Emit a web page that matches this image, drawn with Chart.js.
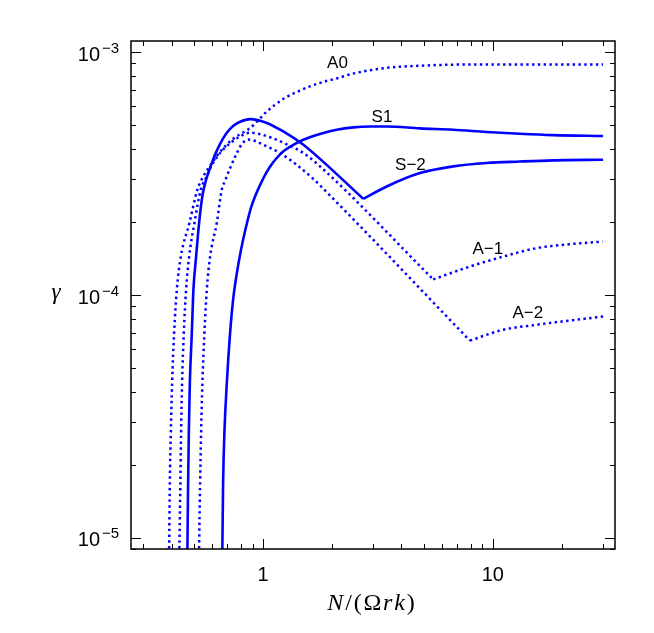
<!DOCTYPE html>
<html>
<head>
<meta charset="utf-8">
<script src="https://cdn.jsdelivr.net/npm/chart.js@4.4.1/dist/chart.umd.min.js"></script>
<style>
html,body{margin:0;padding:0;background:#fff;}
canvas{display:block;}
</style>
</head>
<body>
<canvas id="c" width="654" height="633"></canvas>
<script>
// ---- axis ranges ----
const X_MIN = 0.2663, X_MAX = 34.0;
const Y_MIN = 8.98e-6, Y_MAX = 1.114e-3;

// ---- tick labels ----
const xTickValues = [1, 10];
const xTickLabels = ['1', '10'];
const yTickValues = [1e-5, 1e-4, 1e-3];
const yTickBase = ['10', '10', '10'];
const yTickExp = ['\u22125', '\u22124', '\u22123'];

// ---- series: A0 (dotted) ----
const a0X = [0.389, 0.3902, 0.3929, 0.3969, 0.4020, 0.4102, 0.4214, 0.4387, 0.4782, 0.5180, 0.5483, 0.5883, 0.6310, 0.6768, 0.7333, 0.7943, 0.8519, 0.9074, 0.9541, 1.020, 1.128, 1.246, 1.424, 1.628, 1.860, 2.125, 2.430, 3.451, 4.816, 6.721, 9.389, 13.10, 30.17];
const a0Y = [8.09e-6, 9.18e-6, 1.676e-5, 2.69e-5, 4.33e-5, 6.97e-5, 1.05e-4, 1.44e-4, 1.98e-4, 2.72e-4, 3.071e-4, 3.41e-4, 3.75e-4, 4.065e-4, 4.37e-4, 4.60e-4, 4.777e-4, 5.01e-4, 5.25e-4, 5.615e-4, 6.085e-4, 6.49e-4, 6.91e-4, 7.29e-4, 7.59e-4, 7.84e-4, 8.15e-4, 8.63e-4, 8.81e-4, 8.90e-4, 8.92e-4, 8.92e-4, 8.92e-4];

// ---- series: A-1 (dotted) ----
const am1X = [0.4311, 0.4324, 0.4367, 0.4398, 0.4443, 0.4519, 0.4625, 0.4768, 0.5027, 0.5359, 0.5652, 0.5941, 0.6310, 0.6768, 0.7333, 0.7943, 0.8780, 0.9541, 1.072, 1.268, 1.497, 1.769, 5.501, 7.943, 11.09, 15.49, 21.62, 30.0];
const am1Y = [8.09e-6, 9.18e-6, 1.676e-5, 2.69e-5, 4.33e-5, 6.97e-5, 1.05e-4, 1.44e-4, 1.98e-4, 2.72e-4, 3.04e-4, 3.38e-4, 3.71e-4, 4.01e-4, 4.28e-4, 4.51e-4, 4.67e-4, 4.62e-4, 4.47e-4, 4.18e-4, 3.85e-4, 3.39e-4, 1.16e-4, 1.31e-4, 1.44e-4, 1.56e-4, 1.62e-4, 1.66e-4];

// ---- series: A-2 (dotted) ----
const am2X = [0.5258, 0.5268, 0.5322, 0.5375, 0.5446, 0.5556, 0.5691, 0.5883, 0.6289, 0.6614, 0.6836, 0.7260, 0.7707, 0.8102, 0.8605, 0.9324, 1.003, 1.186, 1.401, 1.654, 1.769, 7.943, 11.09, 15.49, 21.62, 30.17];
const am2Y = [8.09e-6, 9.18e-6, 1.676e-5, 2.69e-5, 4.33e-5, 6.97e-5, 1.05e-4, 1.44e-4, 1.98e-4, 2.72e-4, 2.96e-4, 3.41e-4, 3.86e-4, 4.20e-4, 4.37e-4, 4.30e-4, 4.16e-4, 3.85e-4, 3.44e-4, 3.01e-4, 2.83e-4, 6.49e-5, 7.19e-5, 7.54e-5, 7.85e-5, 8.15e-5];

// ---- series: S-2 (solid) ----
const sm2X = [0.4673, 0.4687, 0.4719, 0.4753, 0.4801, 0.4898, 0.4977, 0.5113, 0.5268, 0.5455, 0.5652, 0.5883, 0.6184, 0.6502, 0.6954, 0.7430, 0.7943, 0.8780, 1.038, 1.225, 1.497, 1.769, 2.730, 3.451, 4.816, 6.721, 9.389, 13.10, 18.29, 30.17];
const sm2Y = [8.09e-6, 9.18e-6, 1.676e-5, 2.69e-5, 4.33e-5, 6.97e-5, 1.05e-4, 1.44e-4, 1.98e-4, 2.588e-4, 2.986e-4, 3.34e-4, 3.79e-4, 4.20e-4, 4.667e-4, 4.985e-4, 5.179e-4, 5.31e-4, 5.12e-4, 4.72e-4, 4.16e-4, 3.64e-4, 2.49e-4, 2.80e-4, 3.18e-4, 3.39e-4, 3.50e-4, 3.55e-4, 3.59e-4, 3.61e-4];

// ---- series: S1 (solid) ----
const s1X = [0.6633, 0.6653, 0.6701, 0.6788, 0.6954, 0.7187, 0.7407, 0.7670, 0.8023, 0.8435, 0.8913, 1.003, 1.072, 1.147, 1.234, 1.354, 1.497, 1.769, 2.092, 2.470, 2.919, 3.451, 4.816, 6.721, 9.389, 13.10, 18.29, 30.17];
const s1Y = [8.09e-6, 9.18e-6, 1.676e-5, 2.69e-5, 4.33e-5, 6.97e-5, 9.55e-5, 1.211e-4, 1.54e-4, 1.911e-4, 2.33e-4, 3.03e-4, 3.38e-4, 3.67e-4, 3.93e-4, 4.16e-4, 4.365e-4, 4.61e-4, 4.80e-4, 4.91e-4, 4.95e-4, 4.95e-4, 4.86e-4, 4.80e-4, 4.70e-4, 4.62e-4, 4.56e-4, 4.52e-4];

// ---- curve labels (anchored in data coordinates) ----
const curveLabelText = ['A0', 'S1', 'S\u22122', 'A\u22121', 'A\u22122'];
const curveLabelX = [2.108, 3.291, 4.379, 9.512, 14.20];
const curveLabelY = [8.98e-4, 5.40e-4, 3.44e-4, 1.536e-4, 8.42e-5];

// ---- axis titles ----
const xTitleParts = [['N', true], ['/', false], ['(', false], ['\u03A9', false], ['r', true], ['k', true], [')', false]];
const yTitle = '\u03B3';

const pts = (xs, ys) => xs.map((x, i) => ({x: x, y: ys[i]}));
const BLUE = '#0000ff';
const DOT = [2.4, 3.4];

function style(label, data, dotted) {
  return {
    label: label,
    data: data,
    borderColor: BLUE,
    backgroundColor: BLUE,
    borderWidth: dotted ? 2.5 : 2.6,
    borderDash: dotted ? DOT : [],
    borderCapStyle: 'butt',
    borderJoinStyle: 'round',
    pointRadius: 0,
    cubicInterpolationMode: 'monotone',
    fill: false,
    clip: 0
  };
}

// split a curve at its sharp minimum (kink) so the corner stays sharp
function mk(label, xs, ys, dotted) {
  const p = pts(xs, ys);
  let k = -1;
  for (let i = 1; i < ys.length - 1; i++) {
    if (ys[i] < ys[i - 1] && ys[i] < ys[i + 1]) { k = i; break; }
  }
  if (k < 0) return [style(label, p, dotted)];
  return [style(label, p.slice(0, k + 1), dotted), style(label, p.slice(k), dotted)];
}

function logTicks(min, max) {
  const out = [];
  for (let e = Math.floor(Math.log10(min)); e <= Math.ceil(Math.log10(max)); e++) {
    for (let m = 1; m <= 9; m++) {
      const v = m * Math.pow(10, e);
      if (v >= min * 1.002 && v <= max * 0.998) out.push({v: v, major: m === 1});
    }
  }
  return out;
}

const framePlugin = {
  id: 'frame',
  afterDatasetsDraw(chart) {
    const ctx = chart.ctx, a = chart.chartArea;
    const xs = chart.scales.x, ys = chart.scales.y;
    ctx.save();
    // ticks (inward on all four sides)
    ctx.strokeStyle = '#000';
    ctx.lineWidth = 1;
    ctx.beginPath();
    logTicks(X_MIN, X_MAX).forEach(t => {
      const p = Math.round(xs.getPixelForValue(t.v)) + 0.5;
      const len = t.major ? 10 : 5;
      ctx.moveTo(p, a.bottom); ctx.lineTo(p, a.bottom - len);
      ctx.moveTo(p, a.top); ctx.lineTo(p, a.top + len);
    });
    logTicks(Y_MIN, Y_MAX).forEach(t => {
      const p = Math.round(ys.getPixelForValue(t.v)) + 0.5;
      const len = t.major ? 10 : 5;
      ctx.moveTo(a.left, p); ctx.lineTo(a.left + len, p);
      ctx.moveTo(a.right, p); ctx.lineTo(a.right - len, p);
    });
    ctx.stroke();
    // frame
    ctx.lineWidth = 1.5;
    ctx.strokeRect(a.left, a.top, a.right - a.left, a.bottom - a.top);

    // x tick labels
    ctx.fillStyle = '#000';
    ctx.font = '20px "Liberation Sans", Arial, sans-serif';
    ctx.textAlign = 'center';
    ctx.textBaseline = 'alphabetic';
    xTickValues.forEach((v, i) => {
      ctx.fillText(xTickLabels[i], xs.getPixelForValue(v), a.bottom + 32);
    });
    // y tick labels: base with superscript exponent
    yTickValues.forEach((v, i) => {
      const p = ys.getPixelForValue(v);
      ctx.textAlign = 'right';
      ctx.font = '20px "Liberation Sans", Arial, sans-serif';
      ctx.fillText(yTickBase[i], a.left - 31, p + 8.5);
      ctx.textAlign = 'left';
      ctx.font = '15px "Liberation Sans", Arial, sans-serif';
      ctx.fillText(yTickExp[i], a.left - 29, p + 0.5);
    });

    // x title (math style)
    ctx.textAlign = 'left';
    ctx.textBaseline = 'alphabetic';
    const fIt = 'italic 24px "Liberation Serif", "DejaVu Serif", serif';
    const fUp = '24px "Liberation Serif", "DejaVu Serif", serif';
    const gap = 1.8;
    let total = 0;
    const widths = xTitleParts.map(pt => { ctx.font = pt[1] ? fIt : fUp; const w = ctx.measureText(pt[0]).width; total += w; return w; });
    total += gap * (xTitleParts.length - 1);
    let cx = (a.left + a.right) / 2 - total / 2 - 2;
    xTitleParts.forEach((pt, i) => { ctx.font = pt[1] ? fIt : fUp; ctx.fillText(pt[0], cx, a.bottom + 61); cx += widths[i] + gap; });

    // y title
    ctx.font = 'italic 23px "Liberation Serif", "DejaVu Serif", serif';
    ctx.textAlign = 'center';
    ctx.fillText(yTitle, 56, ys.getPixelForValue(1e-4) + 3.5);

    // curve labels
    ctx.font = '17px "Liberation Sans", Arial, sans-serif';
    ctx.textAlign = 'center';
    ctx.textBaseline = 'middle';
    curveLabelText.forEach((t, i) => {
      ctx.fillText(t, xs.getPixelForValue(curveLabelX[i]), ys.getPixelForValue(curveLabelY[i]));
    });
    ctx.restore();
  }
};

new Chart(document.getElementById('c').getContext('2d'), {
  type: 'line',
  data: {
    datasets: [].concat(
      mk('A0', a0X, a0Y, true),
      mk('A-1', am1X, am1Y, true),
      mk('A-2', am2X, am2Y, true),
      mk('S-2', sm2X, sm2Y, false),
      mk('S1', s1X, s1Y, false)
    )
  },
  options: {
    responsive: false,
    animation: false,
    devicePixelRatio: 1,
    layout: {padding: {left: 131, right: 39, top: 41, bottom: 84}},
    plugins: {legend: {display: false}, tooltip: {enabled: false}},
    scales: {
      x: {type: 'logarithmic', min: X_MIN, max: X_MAX, display: false},
      y: {type: 'logarithmic', min: Y_MIN, max: Y_MAX, display: false}
    }
  },
  plugins: [framePlugin]
});
</script>
</body>
</html>
